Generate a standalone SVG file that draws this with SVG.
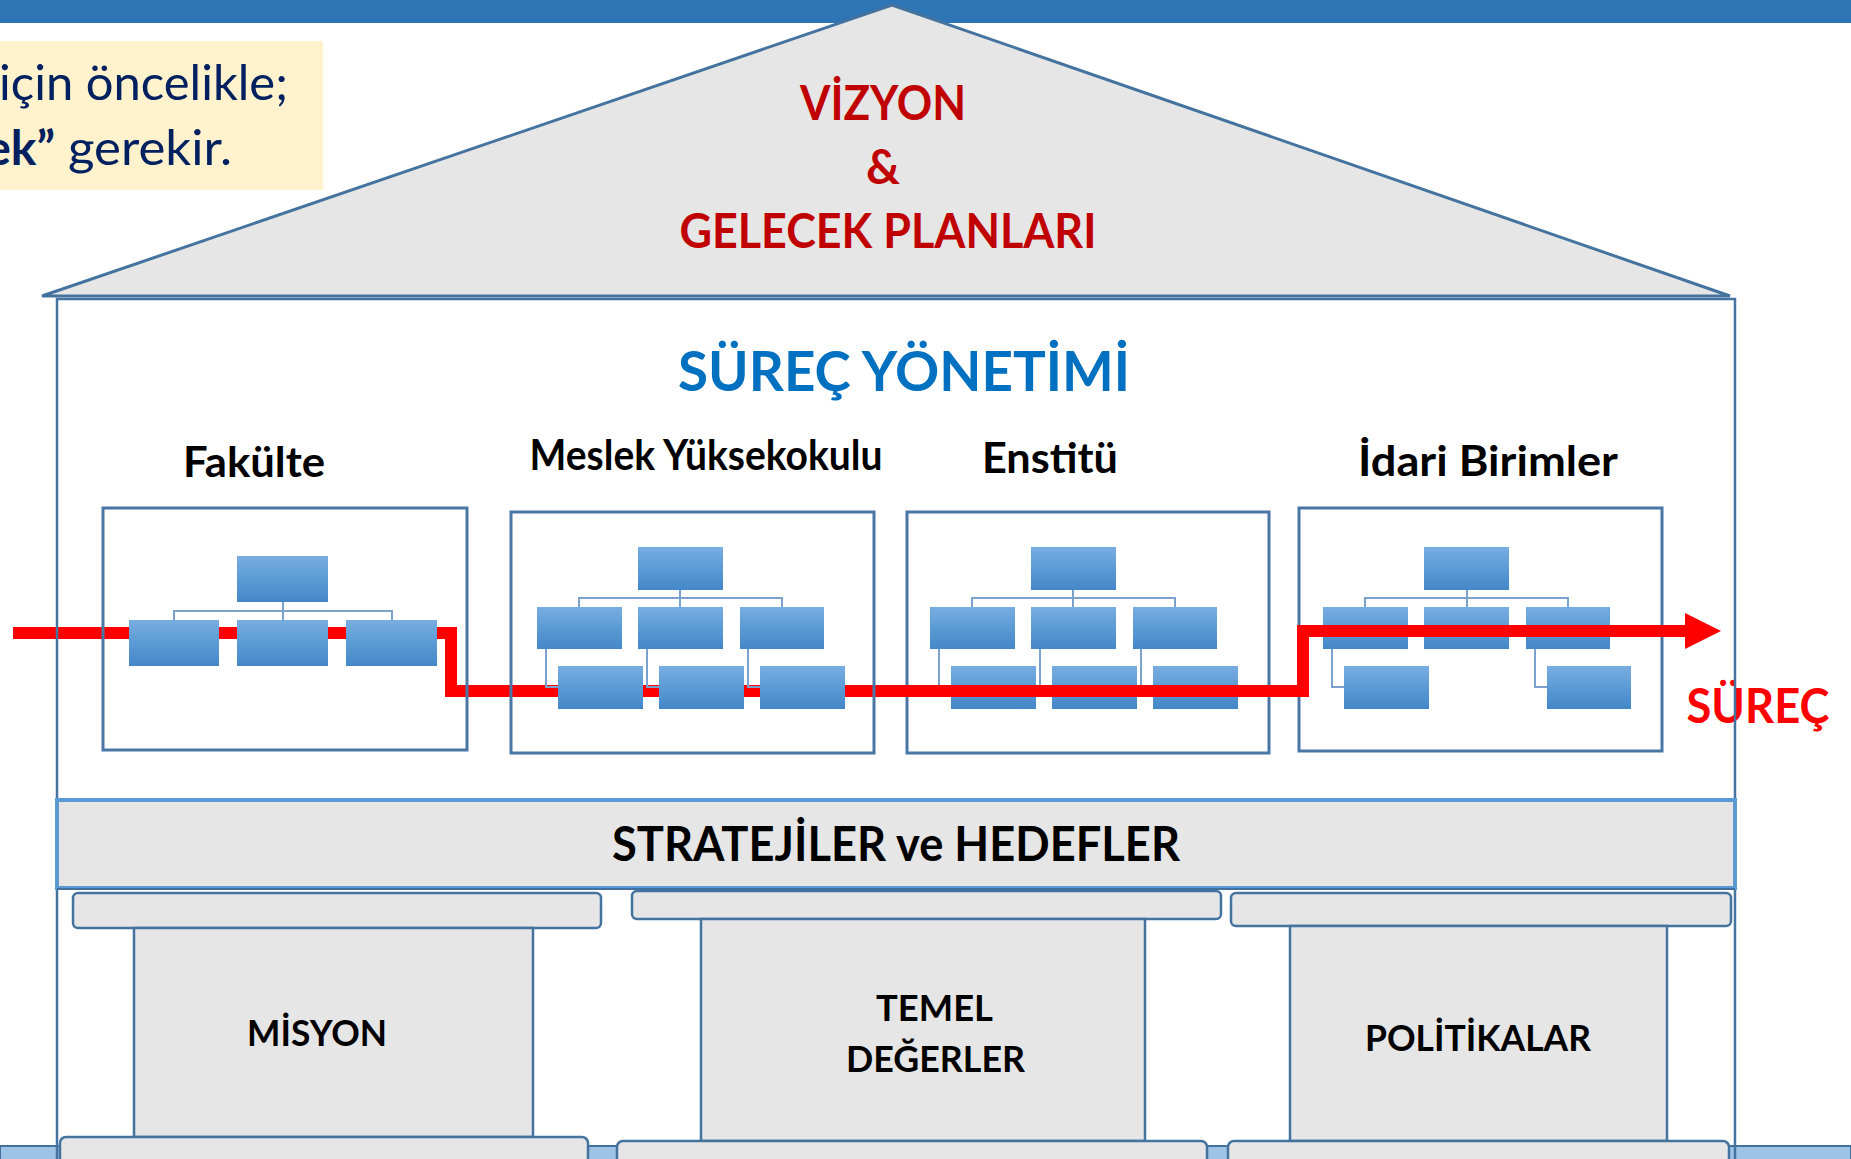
<svg xmlns="http://www.w3.org/2000/svg" width="1851" height="1159" viewBox="0 0 1851 1159">
<defs>
<linearGradient id="boxg" x1="0" y1="0" x2="0" y2="1">
<stop offset="0" stop-color="#79ADE1"/>
<stop offset="0.5" stop-color="#5B9BD5"/>
<stop offset="1" stop-color="#4487C8"/>
</linearGradient>
<style>
.t{font-family:Lato,"Open Sans","Liberation Sans",sans-serif;font-weight:700;}
.r{font-family:Lato,"Open Sans","Liberation Sans",sans-serif;font-weight:400;}
.ob{fill:url(#boxg);}
.oc{fill:none;stroke:#7AA2CD;stroke-width:2;}
.fr{fill:none;stroke:#4A76A6;stroke-width:3;}
.gr{fill:#E6E6E6;stroke:#44739F;stroke-width:2.5;}
.lbl{fill:#000;font-size:42px;text-anchor:middle;}
.pl{fill:#000;font-size:36px;text-anchor:middle;}
.roof{fill:#C00000;font-size:47px;text-anchor:middle;}
</style>
</defs>
<rect x="0" y="0" width="1851" height="23" fill="#2E75B6"/>
<g id="note">
<rect x="0" y="41" width="323" height="149" fill="#FFF2CC"/>
<text class="r" x="-1" y="100" font-size="48" fill="#002060" textLength="289" lengthAdjust="spacingAndGlyphs">için öncelikle;</text>
<text class="t" x="55" y="165" font-size="48" fill="#002060" text-anchor="end">ek”</text>
<text class="r" x="68" y="165" font-size="48" fill="#002060" textLength="164" lengthAdjust="spacingAndGlyphs">gerekir.</text>
</g>
<rect id="body-fill" x="57" y="299" width="1678" height="900" fill="#FFFFFF"/>
<rect x="0" y="1146" width="1851" height="20" fill="#9DC3E6" stroke="#41719C" stroke-width="2"/>
<g id="roof">
<polygon points="42,296 892,5 1730,296" fill="#E6E6E6" stroke="#44739F" stroke-width="3" stroke-linejoin="miter"/>
<text class="t roof" x="883" y="120" textLength="166" lengthAdjust="spacingAndGlyphs">VİZYON</text>
<text class="t roof" x="883" y="184">&amp;</text>
<text class="t roof" x="888" y="248" textLength="417" lengthAdjust="spacingAndGlyphs">GELECEK PLANLARI</text>
</g>
<text id="title" class="t" x="904" y="391" font-size="56" fill="#0070C0" text-anchor="middle" textLength="452" lengthAdjust="spacingAndGlyphs">SÜREÇ YÖNETİMİ</text>
<g id="unit-enstitu">
<text class="t lbl" x="1050" y="473" textLength="136" lengthAdjust="spacingAndGlyphs">Enstitü</text>
<rect class="fr" x="907" y="512" width="362" height="241"/>
<path class="oc" d="M1073,590 V607 M972,607 V598 H1175 V607 M939,649 V687 H951 M1040,649 V687 H1052 M1141,649 V687 H1153"/>
<rect class="ob" x="1031" y="547" width="85" height="43"/>
<rect class="ob" x="930" y="607" width="85" height="42"/>
<rect class="ob" x="1031" y="607" width="85" height="42"/>
<rect class="ob" x="1133" y="607" width="84" height="42"/>
<rect class="ob" x="951" y="666" width="85" height="43"/>
<rect class="ob" x="1052" y="666" width="85" height="43"/>
<rect class="ob" x="1153" y="666" width="85" height="43"/>
</g>
<g id="unit-idari">
<text class="t lbl" x="1488" y="476" textLength="260" lengthAdjust="spacingAndGlyphs">İdari Birimler</text>
<rect class="fr" x="1299" y="508" width="363" height="243"/>
<path class="oc" d="M1467,590 V607 M1365,607 V598 H1568 V607 M1332,649 V687 H1344 M1535,649 V687 H1547"/>
<rect class="ob" x="1424" y="547" width="85" height="43"/>
<rect class="ob" x="1323" y="607" width="85" height="42"/>
<rect class="ob" x="1424" y="607" width="85" height="42"/>
<rect class="ob" x="1526" y="607" width="84" height="42"/>
<rect class="ob" x="1344" y="666" width="85" height="43"/>
<rect class="ob" x="1547" y="666" width="84" height="43"/>
</g>
<g id="connectors">
<path d="M13,633 H451 V691 H1303 V631 H1688" fill="none" stroke="#FF0000" stroke-width="12" stroke-linejoin="miter"/>
<polygon points="1685,613 1721,631 1685,649" fill="#FF0000"/>
</g>
<text id="surec-label" class="t" x="1758" y="723" font-size="47" fill="#FF0000" text-anchor="middle" textLength="143" lengthAdjust="spacingAndGlyphs">SÜREÇ</text>
<g id="unit-fakulte">
<text class="t lbl" x="254" y="477" textLength="142" lengthAdjust="spacingAndGlyphs">Fakülte</text>
<rect class="fr" x="103" y="508" width="364" height="242"/>
<path class="oc" d="M283,602 V620 M174,620 V611 H392 V620"/>
<rect class="ob" x="237" y="556" width="91" height="46"/>
<rect class="ob" x="129" y="620" width="90" height="46"/>
<rect class="ob" x="237" y="620" width="91" height="46"/>
<rect class="ob" x="346" y="620" width="91" height="46"/>
</g>
<g id="unit-myo">
<text class="t lbl" x="706" y="470" font-size="37" textLength="353" lengthAdjust="spacingAndGlyphs">Meslek Yüksekokulu</text>
<rect class="fr" x="511" y="512" width="363" height="241"/>
<path class="oc" d="M680,590 V607 M579,607 V598 H782 V607 M546,649 V687 H558 M647,649 V687 H659 M748,649 V687 H760"/>
<rect class="ob" x="638" y="547" width="85" height="43"/>
<rect class="ob" x="537" y="607" width="85" height="42"/>
<rect class="ob" x="638" y="607" width="85" height="42"/>
<rect class="ob" x="740" y="607" width="84" height="42"/>
<rect class="ob" x="558" y="666" width="85" height="43"/>
<rect class="ob" x="659" y="666" width="85" height="43"/>
<rect class="ob" x="760" y="666" width="85" height="43"/>
</g>
<rect id="body-outline" x="57" y="299" width="1678" height="900" fill="none" stroke="#44739F" stroke-width="2.5"/>
<g id="strategies">
<rect x="57" y="800" width="1678" height="88" fill="#E6E6E6" stroke="#5B9BD5" stroke-width="4"/>
<line x1="57" y1="889" x2="1735" y2="889" stroke="#41719C" stroke-width="2"/>
<text class="t" x="896" y="861" font-size="47.5" fill="#000" text-anchor="middle" textLength="568" lengthAdjust="spacingAndGlyphs">STRATEJİLER ve HEDEFLER</text>
</g>
<g id="pillar-misyon">
<rect class="gr" x="73" y="893" width="528" height="35" rx="5"/>
<rect class="gr" x="134" y="928" width="399" height="209"/>
<rect class="gr" x="60" y="1137" width="528" height="40" rx="6"/>
<text class="t pl" x="317" y="1046" textLength="140" lengthAdjust="spacingAndGlyphs">MİSYON</text>
</g>
<g id="pillar-temel">
<rect class="gr" x="632" y="891" width="589" height="28" rx="5"/>
<rect class="gr" x="701" y="919" width="444" height="222"/>
<rect class="gr" x="617" y="1141" width="590" height="40" rx="6"/>
<text class="t pl" x="934.5" y="1021" textLength="117" lengthAdjust="spacingAndGlyphs">TEMEL</text>
<text class="t pl" x="935.5" y="1072" textLength="179" lengthAdjust="spacingAndGlyphs">DEĞERLER</text>
</g>
<g id="pillar-politikalar">
<rect class="gr" x="1231" y="893" width="500" height="33" rx="5"/>
<rect class="gr" x="1290" y="926" width="377" height="215"/>
<rect class="gr" x="1228" y="1141" width="501" height="40" rx="6"/>
<text class="t pl" x="1478" y="1051" textLength="226" lengthAdjust="spacingAndGlyphs">POLİTİKALAR</text>
</g>
</svg>
